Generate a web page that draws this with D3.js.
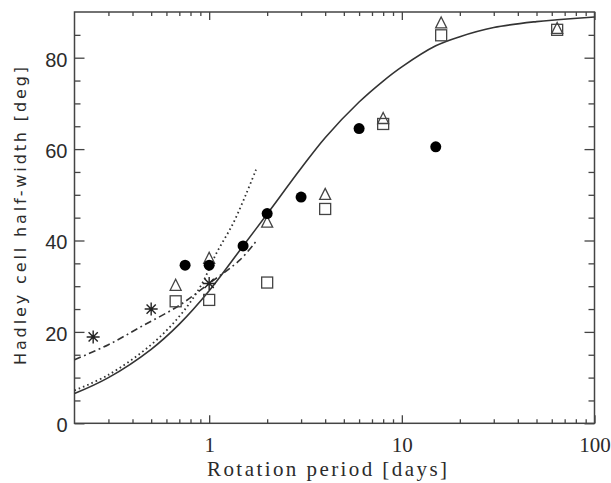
<!DOCTYPE html>
<html>
<head>
<meta charset="utf-8">
<script src="https://cdn.jsdelivr.net/npm/d3@7"></script>
<style>
  body { margin: 0; background: #fff; }
</style>
</head>
<body>
<div id="chart"></div>
<script>
// rotation period [days] and Hadley cell half-width [deg]
const circlePeriod = [0.75, 1, 1.5, 2, 3, 6, 15];
const circleWidth  = [34.6, 34.6, 38.8, 45.9, 49.5, 64.5, 60.5];

const trianglePeriod = [0.67, 1, 2, 4, 8, 16, 64];
const triangleWidth  = [30.2, 36.1, 44.0, 50.1, 66.7, 87.6, 86.4];

const squarePeriod = [0.67, 1, 2, 4, 8, 16, 64];
const squareWidth  = [26.7, 27.0, 30.8, 46.9, 65.5, 84.9, 86.1];

const starPeriod = [0.25, 0.5, 1];
const starWidth  = [18.9, 25.0, 30.6];

// model curves
const solidPeriod = [0.2, 0.3, 0.5, 0.7, 1, 1.5, 2, 3, 4, 6, 8, 10, 15, 20, 30, 50, 64, 100];
const solidWidth  = [6.5, 10.0, 16.2, 21.7, 29.0, 38.8, 45.8, 55.8, 62.5, 70.3, 74.9, 78.0, 82.6, 84.6, 86.6, 87.9, 88.3, 88.9];

const dashDotPeriod = [0.2, 0.3, 0.45, 0.7, 1, 1.44, 1.75];
const dashDotWidth  = [13.9, 17.2, 21.3, 25.8, 30.6, 35.7, 39.8];

const dottedPeriod = [0.2, 0.3, 0.5, 0.7, 0.9, 1.09, 1.33, 1.56, 1.75];
const dottedWidth  = [7.2, 10.6, 17.2, 23.4, 29.9, 37.2, 43.7, 50.3, 55.5];

// axis ticks
const xMajor = [1, 10, 100];
const xMinor = [0.3, 0.4, 0.5, 0.6, 0.7, 0.8, 0.9, 2, 3, 4, 5, 6, 7, 8, 9, 20, 30, 40, 50, 60, 70, 80, 90];
const yMajor = [0, 20, 40, 60, 80];
const yMinor = [5, 10, 15, 25, 30, 35, 45, 50, 55, 65, 70, 75, 85];

const W = 611, H = 483;
const plotL = 74.5, plotR = 594.5, plotT = 12, plotB = 423.3;
const ink = "#2b2b2b";

const svg = d3.select("#chart").append("svg")
    .attr("width", W)
    .attr("height", H);

const x = d3.scaleLog().domain([0.2, 100]).range([plotL, plotR]);
const y = d3.scaleLinear().domain([0, 90]).range([plotB, plotT]);

function styleAxis(g) {
    g.select(".domain").remove();
    g.selectAll("line").attr("stroke", "#444").attr("stroke-width", 1.3);
}

// bottom axis
svg.append("g").attr("transform", `translate(0,${plotB})`)
    .call(d3.axisBottom(x).tickValues(xMinor).tickSize(-4).tickFormat(""))
    .call(styleAxis);
const xb = svg.append("g").attr("transform", `translate(0,${plotB})`)
    .call(d3.axisBottom(x).tickValues(xMajor).tickSize(-8).tickFormat(d3.format("d")))
    .call(styleAxis);
xb.selectAll("text")
    .attr("y", 29).attr("dy", null)
    .attr("font-family", "Liberation Serif")
    .attr("font-size", 21)
    .attr("fill", ink);

// top axis
svg.append("g").attr("transform", `translate(0,${plotT})`)
    .call(d3.axisTop(x).tickValues(xMinor).tickSize(-4).tickFormat(""))
    .call(styleAxis);
svg.append("g").attr("transform", `translate(0,${plotT})`)
    .call(d3.axisTop(x).tickValues(xMajor).tickSize(-8).tickFormat(""))
    .call(styleAxis);

// left axis
svg.append("g").attr("transform", `translate(${plotL},0)`)
    .call(d3.axisLeft(y).tickValues(yMinor).tickSize(-6).tickFormat(""))
    .call(styleAxis);
const yl = svg.append("g").attr("transform", `translate(${plotL},0)`)
    .call(d3.axisLeft(y).tickValues(yMajor).tickSize(-10).tickPadding(7))
    .call(styleAxis);
yl.selectAll("text")
    .attr("dy", "0.42em")
    .attr("font-family", "Liberation Sans")
    .attr("font-size", 20)
    .attr("fill", ink);

// right axis
svg.append("g").attr("transform", `translate(${plotR},0)`)
    .call(d3.axisRight(y).tickValues(yMinor).tickSize(-6).tickFormat(""))
    .call(styleAxis);
svg.append("g").attr("transform", `translate(${plotR},0)`)
    .call(d3.axisRight(y).tickValues(yMajor).tickSize(-10).tickFormat(""))
    .call(styleAxis);

// frame
svg.append("rect")
    .attr("x", plotL).attr("y", plotT)
    .attr("width", plotR - plotL).attr("height", plotB - plotT)
    .attr("fill", "none")
    .attr("stroke", "#444")
    .attr("stroke-width", 1.5);

// axis titles
svg.append("text")
    .attr("x", 327).attr("y", 476)
    .attr("text-anchor", "middle")
    .attr("font-family", "Liberation Serif")
    .attr("font-size", 21)
    .attr("textLength", 240)
    .attr("lengthAdjust", "spacing")
    .attr("fill", ink)
    .text("Rotation period [days]");

svg.append("text")
    .attr("transform", "translate(26,216) rotate(-90)")
    .attr("text-anchor", "middle")
    .attr("font-family", "DejaVu Sans")
    .attr("font-size", 16)
    .attr("textLength", 298)
    .attr("lengthAdjust", "spacing")
    .attr("fill", ink)
    .text("Hadley cell half-width [deg]");

// curves
const line = d3.line()
    .x(d => x(d[0]))
    .y(d => y(d[1]))
    .curve(d3.curveCatmullRom.alpha(0.5));

svg.append("path")
    .datum(d3.zip(dottedPeriod, dottedWidth))
    .attr("d", line)
    .attr("fill", "none")
    .attr("stroke", "#333")
    .attr("stroke-width", 1.8)
    .attr("stroke-dasharray", "1.6,3");

svg.append("path")
    .datum(d3.zip(dashDotPeriod, dashDotWidth))
    .attr("d", line)
    .attr("fill", "none")
    .attr("stroke", "#333")
    .attr("stroke-width", 1.6)
    .attr("stroke-dasharray", "7,3.5,1.8,3.5");

svg.append("path")
    .datum(d3.zip(solidPeriod, solidWidth))
    .attr("d", line)
    .attr("fill", "none")
    .attr("stroke", "#333")
    .attr("stroke-width", 1.6);

// open triangles
svg.append("g").selectAll("path")
    .data(d3.zip(trianglePeriod, triangleWidth))
    .join("path")
    .attr("transform", d => `translate(${x(d[0])},${y(d[1])})`)
    .attr("d", "M0,-6L5.5,5L-5.5,5Z")
    .attr("fill", "none")
    .attr("stroke", "#444")
    .attr("stroke-width", 1.3);

// open squares
svg.append("g").selectAll("rect")
    .data(d3.zip(squarePeriod, squareWidth))
    .join("rect")
    .attr("x", d => x(d[0]) - 5.5)
    .attr("y", d => y(d[1]) - 5.5)
    .attr("width", 11).attr("height", 11)
    .attr("fill", "none")
    .attr("stroke", "#444")
    .attr("stroke-width", 1.3);

// asterisks
svg.append("g").selectAll("path")
    .data(d3.zip(starPeriod, starWidth))
    .join("path")
    .attr("transform", d => `translate(${x(d[0])},${y(d[1])})`)
    .attr("d", "M0,-6.5V6.5M-6.5,0H6.5M-4.6,-4.6L4.6,4.6M-4.6,4.6L4.6,-4.6")
    .attr("stroke", "#222")
    .attr("stroke-width", 1.4);

// filled circles
svg.append("g").selectAll("circle")
    .data(d3.zip(circlePeriod, circleWidth))
    .join("circle")
    .attr("cx", d => x(d[0]))
    .attr("cy", d => y(d[1]))
    .attr("r", 5.5)
    .attr("fill", "#000");
</script>
</body>
</html>
